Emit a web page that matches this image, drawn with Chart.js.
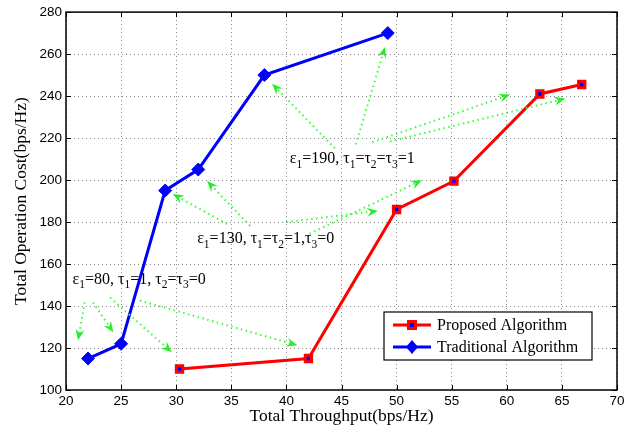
<!DOCTYPE html>
<html>
<head>
<meta charset="utf-8">
<script src="https://cdn.jsdelivr.net/npm/chart.js@4.4.1/dist/chart.umd.min.js"></script>
<style>
  html, body { margin: 0; padding: 0; background: #fff; }
  #wrap { width: 639px; height: 432px; }
</style>
</head>
<body>
<div id="wrap"><canvas id="chart" width="639" height="432"></canvas></div>
<script>
// --- data ---
const propX = [30.3, 42, 50, 55.2, 63, 66.8];
const propY = [110, 115, 186, 199.5, 241, 245.5];
const tradX = [22, 25, 29, 32, 38, 49.2];
const tradY = [115, 122, 195, 205, 250, 270];

const xTicks = [20, 25, 30, 35, 40, 45, 50, 55, 60, 65, 70];
const yTicks = [100, 120, 140, 160, 180, 200, 220, 240, 260, 280];

// annotation labels: [x, y] baseline start, parts = [main, sub, main, sub ...]
const labelPos190 = [40.3, 208];
const labelParts190 = ['ε', '1', '=190, τ', '1', '=τ', '2', '=τ', '3', '=1'];
const labelPos130 = [31.9, 170];
const labelParts130 = ['ε', '1', '=130, τ', '1', '=τ', '2', '=1,τ', '3', '=0'];
const labelPos80 = [20.6, 150.7];
const labelParts80 = ['ε', '1', '=80, τ', '1', '=1, τ', '2', '=τ', '3', '=0'];

// arrows: [tailX, tailY, headX, headY]
const arrows190 = [
  [44.4, 215.1, 38.7, 245.9],
  [46.3, 217.0, 48.95, 263.4],
  [47.8, 218.0, 60.3, 240.7],
  [49.4, 218.4, 65.3, 238.8]
];
const arrows130 = [
  [34.6, 179.1, 29.7, 193.3],
  [36.7, 178.2, 32.8, 199.5],
  [40.0, 180.0, 48.3, 185.3],
  [42.1, 174.4, 52.3, 199.9]
];
const arrows80 = [
  [21.7, 141.7, 21.1, 123.7],
  [22.45, 141.7, 24.3, 127.5],
  [24.0, 144.0, 29.6, 118.0],
  [26.7, 142.6, 41.0, 121.3]
];

const serif = '"Liberation Serif", "Times New Roman", serif';
const sans = '"Liberation Sans", Arial, sans-serif';

function toPoints(xs, ys) {
  return xs.map((x, i) => ({ x: x, y: ys[i] }));
}

// --- draw helpers ---
function drawArrow(ctx, x0, y0, x1, y1) {
  const ang = Math.atan2(y1 - y0, x1 - x0);
  const len = 11, half = 4.5, notch = 4;
  ctx.save();
  ctx.strokeStyle = '#33ff33';
  ctx.lineWidth = 2;
  ctx.setLineDash([1.5, 3.5]);
  ctx.beginPath();
  ctx.moveTo(x0, y0);
  ctx.lineTo(x1 - Math.cos(ang) * notch, y1 - Math.sin(ang) * notch);
  ctx.stroke();
  ctx.setLineDash([]);
  ctx.fillStyle = '#22ee22';
  ctx.translate(x1, y1);
  ctx.rotate(ang);
  ctx.beginPath();
  ctx.moveTo(0, 0);
  ctx.lineTo(-len, -half);
  ctx.lineTo(-len + notch, 0);
  ctx.lineTo(-len, half);
  ctx.closePath();
  ctx.fill();
  ctx.restore();
}

function drawSubText(ctx, parts, x, y) {
  let cx = x;
  ctx.save();
  ctx.fillStyle = '#000';
  ctx.textBaseline = 'alphabetic';
  ctx.textAlign = 'left';
  parts.forEach((p, i) => {
    const isSub = i % 2 === 1;
    ctx.font = (isSub ? '11.5px ' : '16px ') + serif;
    ctx.fillText(p, cx, isSub ? y + 4.5 : y);
    cx += ctx.measureText(p).width;
  });
  ctx.restore();
}

const decorPlugin = {
  id: 'decor',
  afterDatasetsDraw(chart) {
    const ctx = chart.ctx;
    const xs = chart.scales.x, ys = chart.scales.y;
    const a = chart.chartArea;

    // green dotted arrows
    [arrows190, arrows130, arrows80].forEach(group => {
      group.forEach(r => {
        drawArrow(ctx, xs.getPixelForValue(r[0]), ys.getPixelForValue(r[1]),
                  xs.getPixelForValue(r[2]), ys.getPixelForValue(r[3]));
      });
    });

    // labels
    drawSubText(ctx, labelParts190, xs.getPixelForValue(labelPos190[0]), ys.getPixelForValue(labelPos190[1]));
    drawSubText(ctx, labelParts130, xs.getPixelForValue(labelPos130[0]), ys.getPixelForValue(labelPos130[1]));
    drawSubText(ctx, labelParts80, xs.getPixelForValue(labelPos80[0]), ys.getPixelForValue(labelPos80[1]));

    // box + inward ticks on all sides
    ctx.save();
    ctx.strokeStyle = '#000';
    ctx.lineWidth = 1.5;
    ctx.strokeRect(a.left, a.top, a.right - a.left, a.bottom - a.top);
    ctx.lineWidth = 1;
    ctx.beginPath();
    xTicks.forEach(v => {
      const px = Math.round(xs.getPixelForValue(v)) + 0.5;
      ctx.moveTo(px, a.bottom); ctx.lineTo(px, a.bottom - 5);
      ctx.moveTo(px, a.top); ctx.lineTo(px, a.top + 5);
    });
    yTicks.forEach(v => {
      const py = Math.round(ys.getPixelForValue(v)) + 0.5;
      ctx.moveTo(a.left, py); ctx.lineTo(a.left + 5, py);
      ctx.moveTo(a.right, py); ctx.lineTo(a.right - 5, py);
    });
    ctx.stroke();
    ctx.restore();

    // axis titles
    ctx.save();
    ctx.fillStyle = '#000';
    ctx.font = '17.5px ' + serif;
    ctx.textAlign = 'center';
    ctx.textBaseline = 'middle';
    ctx.fillText('Total Throughput(bps/Hz)', (a.left + a.right) / 2, 416);
    ctx.translate(21, (a.top + a.bottom) / 2);
    ctx.rotate(-Math.PI / 2);
    ctx.fillText('Total Operation Cost(bps/Hz)', 0, 0);
    ctx.restore();

    // legend box
    const lx = 384, ly = 312, lw = 208, lh = 48;
    ctx.save();
    ctx.fillStyle = '#fff';
    ctx.fillRect(lx, ly, lw, lh);
    ctx.strokeStyle = '#000';
    ctx.lineWidth = 1.2;
    ctx.strokeRect(lx, ly, lw, lh);
    const rows = [
      { y: 325, color: 'red', label: 'Proposed Algorithm', kind: 'sq' },
      { y: 347, color: 'blue', label: 'Traditional Algorithm', kind: 'dia' }
    ];
    rows.forEach(r => {
      ctx.strokeStyle = r.color;
      ctx.lineWidth = 3;
      ctx.beginPath();
      ctx.moveTo(393, r.y); ctx.lineTo(431, r.y);
      ctx.stroke();
      if (r.kind === 'sq') {
        ctx.fillStyle = 'red';
        ctx.fillRect(407, r.y - 5, 10, 10);
        ctx.fillStyle = 'blue';
        ctx.fillRect(410, r.y - 2, 4, 4);
      } else {
        ctx.fillStyle = 'blue';
        ctx.beginPath();
        ctx.moveTo(412, r.y - 7); ctx.lineTo(418, r.y);
        ctx.lineTo(412, r.y + 7); ctx.lineTo(406, r.y);
        ctx.closePath();
        ctx.fill();
      }
      ctx.fillStyle = '#000';
      ctx.font = '16px ' + serif;
      ctx.textAlign = 'left';
      ctx.textBaseline = 'middle';
      ctx.fillText(r.label, 437, r.y + 1);
    });
    ctx.restore();
  }
};

new Chart(document.getElementById('chart'), {
  type: 'scatter',
  data: {
    datasets: [
      {
        label: 'Proposed Algorithm',
        data: toPoints(propX, propY),
        showLine: true,
        borderColor: 'red',
        borderWidth: 3,
        backgroundColor: 'blue',
        pointStyle: 'rect',
        pointRadius: 4.5,
        pointBorderColor: 'red',
        pointBorderWidth: 3
      },
      {
        label: 'Traditional Algorithm',
        data: toPoints(tradX, tradY),
        showLine: true,
        borderColor: 'blue',
        borderWidth: 3,
        backgroundColor: 'blue',
        pointStyle: 'rectRot',
        pointRadius: 6.5,
        pointBorderColor: 'blue',
        pointBorderWidth: 1
      }
    ]
  },
  options: {
    responsive: false,
    animation: false,
    layout: { padding: { top: 10, right: 22, left: 0, bottom: 0 } },
    plugins: {
      legend: { display: false },
      tooltip: { enabled: false }
    },
    scales: {
      x: {
        type: 'linear',
        min: 20, max: 70,
        afterBuildTicks(s) { s.ticks = xTicks.map(v => ({ value: v })); },
        afterFit(s) { s.height = 42; },
        grid: { color: '#888', lineWidth: 1, drawTicks: false },
        border: { display: false, dash: [1, 3] },
        ticks: { color: '#000', font: { family: sans, size: 13.5 }, padding: 3, maxRotation: 0 }
      },
      y: {
        type: 'linear',
        min: 100, max: 280,
        afterBuildTicks(s) { s.ticks = yTicks.map(v => ({ value: v })); },
        afterFit(s) { s.width = 66; },
        grid: { color: '#888', lineWidth: 1, drawTicks: false },
        border: { display: false, dash: [1, 3] },
        ticks: { color: '#000', font: { family: sans, size: 13.5 }, padding: 4 }
      }
    }
  },
  plugins: [decorPlugin]
});
</script>
</body>
</html>
